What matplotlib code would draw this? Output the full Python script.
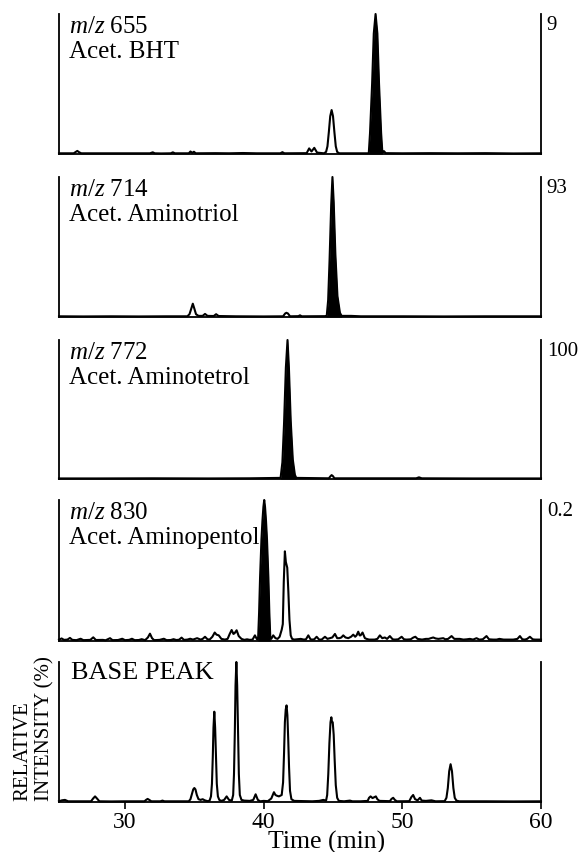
"""Stacked ion chromatograms (m/z 655/714/772/830 + base peak)."""

import numpy as np
import matplotlib.pyplot as plt

plt.rcParams["font.family"] = "Liberation Serif"
plt.rcParams["mathtext.fontset"] = "custom"
plt.rcParams["mathtext.rm"] = "Liberation Serif"
plt.rcParams["mathtext.it"] = "Liberation Serif:italic"

# -----------------------------------------------------------------------------
# Data: (time [min], relative intensity [%]) ----------------------------------
# -----------------------------------------------------------------------------

mz_values = [655, 714, 772, 830]
compounds = ["Acet. BHT", "Acet. Aminotriol", "Acet. Aminotetrol", "Acet. Aminopentol"]
scale_labels = ["9", "93", "100", "0.2"]
# time window of the blackened (target) peak in each ion trace
fill_windows = [(47.55, 48.6), (44.5, 45.65), (41.2, 42.4), (39.55, 40.5)]

trace_655 = [
    (25.24, 0.5), (26.3, 0.5), (26.45, 1.5), (26.56, 2.2), (26.7, 1.2), (26.85, 0.5),
    (31.8, 0.5), (32.0, 1.2), (32.15, 0.5), (32.6, 0.4), (33.3, 0.5), (33.45, 1.2),
    (33.6, 0.5), (34.6, 0.5), (34.72, 1.8), (34.85, 0.8), (34.97, 1.6), (35.1, 0.5),
    (36.5, 0.6), (37.5, 0.5), (38.5, 0.7), (39.5, 0.5), (41.2, 0.5), (41.35, 1.3),
    (41.5, 0.5), (43.1, 0.6), (43.28, 4.0), (43.45, 1.8), (43.65, 4.4), (43.85, 1.0),
    (44.35, 0.5), (44.5, 1.5), (44.6, 5.5), (44.7, 15.7), (44.8, 27), (44.9, 31.4),
    (45.0, 27), (45.1, 15.7), (45.2, 5.5), (45.3, 1.5), (45.45, 0.5),
    (47.58, 0.5), (47.67, 15), (47.82, 50), (47.94, 86), (48.07, 100), (48.2, 86),
    (48.32, 50), (48.47, 15), (48.56, 1), (48.68, 2), (48.8, 0.6), (50.0, 0.5),
    (52.0, 0.6), (54.0, 0.5), (56.0, 0.6), (58.0, 0.4), (60.0, 0.5),
]

trace_714 = [
    (25.24, 0.5), (27.0, 0.4), (29.0, 0.5), (31.0, 0.4), (33.0, 0.5), (34.5, 0.5),
    (34.65, 2), (34.78, 6), (34.89, 9.5), (35.0, 6), (35.12, 2), (35.3, 0.8),
    (35.6, 0.8), (35.77, 2.2), (35.95, 0.8), (36.4, 0.7), (36.57, 2), (36.75, 0.7),
    (38.0, 0.5), (40.0, 0.4), (41.4, 0.5), (41.55, 2.5), (41.64, 3), (41.75, 2.5),
    (41.9, 0.5), (42.5, 0.6), (42.62, 1.2), (42.75, 0.5), (44.5, 0.6),
    (44.55, 1), (44.65, 12), (44.75, 40), (44.87, 80), (44.96, 100), (45.05, 82),
    (45.17, 45), (45.32, 15), (45.5, 3), (45.62, 0.8), (46.3, 0.8), (47.0, 0.5),
    (50.0, 0.5), (53.0, 0.4), (56.0, 0.5), (60.0, 0.5),
]

trace_772 = [
    (25.24, 0.4), (28.0, 0.4), (32.0, 0.5), (36.0, 0.4), (39.0, 0.5), (41.22, 0.8),
    (41.35, 12), (41.47, 40), (41.6, 80), (41.72, 100), (41.82, 80), (41.95, 42),
    (42.1, 14), (42.25, 3), (42.35, 0.8), (44.7, 0.5), (44.82, 2), (44.9, 2.8),
    (45.0, 2), (45.1, 0.5), (51.0, 0.5), (51.2, 1.2), (51.4, 0.5), (55.0, 0.4),
    (60.0, 0.4),
]

trace_830 = [
    (25.24, 1.0), (25.43, 1.8), (25.6, 0.8), (25.85, 1.0), (26.03, 2.2), (26.2, 0.8),
    (26.5, 0.6), (26.8, 1.6), (27.0, 0.6), (27.5, 0.8), (27.71, 2.6), (27.9, 0.7),
    (28.4, 0.8), (28.6, 0.5), (28.92, 2.0), (29.1, 0.6), (29.5, 0.7), (29.8, 1.6),
    (30.0, 0.6), (30.3, 0.8), (30.5, 1.6), (30.7, 0.6), (31.0, 0.7), (31.2, 1.3),
    (31.45, 0.6), (31.65, 2.5), (31.8, 5.2), (31.95, 2.0), (32.1, 0.6), (32.5, 0.8),
    (32.8, 1.6), (33.0, 0.6), (33.3, 0.7), (33.5, 1.3), (33.7, 0.7), (33.9, 0.9),
    (34.08, 2.4), (34.25, 0.8), (34.5, 1.0), (34.7, 1.6), (34.9, 1.0), (35.2, 2.0),
    (35.45, 1.0), (35.6, 1.5), (35.77, 3.0), (35.95, 1.2), (36.1, 1.0), (36.3, 3.0),
    (36.47, 6.0), (36.6, 4.5), (36.76, 4.0), (36.95, 1.5), (37.2, 1.0), (37.4, 1.5),
    (37.55, 5.0), (37.69, 7.8), (37.82, 5.0), (37.9, 5.5), (38.05, 7.6), (38.2, 3.5),
    (38.4, 1.5), (38.6, 0.8), (38.8, 1.2), (39.0, 0.8), (39.2, 1.0), (39.37, 4.0),
    (39.5, 1.5), (39.58, 1.0),
    (39.6, 2), (39.67, 20), (39.74, 45), (39.84, 72), (39.91, 85), (39.98, 95),
    (40.04, 100), (40.1, 95), (40.17, 85), (40.24, 72), (40.34, 45), (40.41, 20),
    (40.48, 2),
    (40.55, 1.5), (40.69, 4.0), (40.85, 2.0), (41.0, 1.5), (41.15, 3.0), (41.3, 8.0),
    (41.38, 12), (41.45, 42), (41.53, 63.6), (41.6, 56), (41.70, 52), (41.78, 35),
    (41.86, 15), (41.95, 4), (42.05, 1.5), (42.2, 1.0), (42.4, 1.2), (42.67, 1.5),
    (42.9, 1.0), (43.05, 1.2), (43.22, 4.0), (43.38, 1.2), (43.5, 1.0), (43.65, 1.2),
    (43.82, 3.0), (44.0, 1.0), (44.18, 1.0), (44.42, 3.0), (44.6, 1.5), (44.78, 2.0),
    (44.95, 2.5), (45.14, 5.0), (45.3, 2.0), (45.46, 2.0), (45.6, 2.5), (45.74, 4.0),
    (45.9, 2.5), (46.1, 2.0), (46.3, 3.0), (46.46, 4.5), (46.6, 3.0), (46.7, 4.0),
    (46.82, 6.6), (46.92, 4.0), (46.99, 4.0), (47.13, 6.0), (47.3, 2.0), (47.42, 1.5),
    (47.6, 1.0), (47.78, 1.0), (48.0, 1.0), (48.2, 1.5), (48.38, 4.0), (48.55, 2.0),
    (48.74, 2.5), (48.9, 1.5), (49.1, 3.5), (49.3, 1.2), (49.46, 1.0), (49.7, 1.2),
    (49.95, 3.0), (50.12, 1.2), (50.3, 1.0), (50.6, 1.2), (50.8, 2.5), (50.94, 3.0),
    (51.1, 1.5), (51.42, 1.0), (51.7, 1.5), (51.9, 1.5), (52.05, 2.0), (52.23, 2.5),
    (52.4, 1.8), (52.6, 1.5), (52.8, 1.8), (52.95, 2.0), (53.1, 1.2), (53.3, 1.5),
    (53.55, 3.5), (53.75, 1.5), (54.15, 1.5), (54.4, 1.0), (54.65, 1.2), (54.87, 1.5),
    (55.1, 1.0), (55.35, 2.0), (55.55, 1.0), (55.8, 1.2), (56.07, 3.5), (56.25, 1.2),
    (56.55, 1.0), (56.8, 1.0), (57.0, 1.5), (57.3, 1.0), (57.7, 1.0), (58.0, 1.0),
    (58.3, 1.5), (58.48, 3.5), (58.65, 1.2), (58.84, 1.0), (59.0, 1.5), (59.2, 3.0),
    (59.4, 1.2), (59.56, 1.0), (60.0, 1.0),
]

trace_base_peak = [
    (25.24, 0.5), (25.45, 1.2), (25.67, 1.5), (25.9, 0.5), (27.55, 0.5), (27.7, 2.5),
    (27.84, 4.0), (27.98, 2.5), (28.15, 0.5), (29.0, 0.4), (30.0, 0.5), (31.4, 0.5),
    (31.52, 1.5), (31.63, 2.2), (31.75, 1.5), (31.9, 0.5), (32.55, 0.5), (32.7, 1.0),
    (32.85, 0.5), (34.6, 0.5), (34.72, 2), (34.82, 5.5), (34.92, 9), (35.0, 10),
    (35.08, 9), (35.18, 5), (35.3, 2), (35.45, 1.5), (35.6, 2), (35.75, 1.2),
    (35.95, 0.6), (36.1, 1), (36.2, 4), (36.27, 13), (36.33, 32), (36.38, 53),
    (36.44, 64.5), (36.5, 53), (36.56, 32), (36.62, 13), (36.7, 4), (36.8, 1.5),
    (36.95, 0.8), (37.15, 1.5), (37.33, 4), (37.5, 1.5), (37.7, 1), (37.8, 5),
    (37.86, 20), (37.92, 50), (37.97, 83), (38.03, 100), (38.09, 83), (38.15, 50),
    (38.21, 20), (38.28, 5), (38.4, 1.5), (38.6, 1), (39.0, 0.8), (39.25, 1.5),
    (39.42, 5.5), (39.58, 1.5), (39.75, 0.5), (40.0, 0.8), (40.3, 0.6), (40.55, 2.5),
    (40.74, 7), (40.85, 5), (40.95, 4.5), (41.1, 4), (41.3, 5), (41.4, 14),
    (41.47, 35), (41.53, 57), (41.59, 66), (41.65, 69), (41.71, 62), (41.77, 45),
    (41.83, 25), (41.9, 8), (42.0, 2), (42.2, 0.8), (42.6, 0.7), (43.0, 0.6),
    (43.5, 0.5), (44.0, 0.8), (44.3, 1.5), (44.42, 1.2), (44.5, 1), (44.58, 5),
    (44.66, 20), (44.74, 42), (44.82, 57), (44.88, 60.5), (44.93, 57), (44.98, 57),
    (45.05, 48), (45.12, 30), (45.2, 12), (45.3, 3), (45.42, 0.8), (45.8, 0.5),
    (46.22, 1.0), (46.4, 0.5), (47.0, 0.5), (47.5, 0.8), (47.6, 3), (47.71, 4),
    (47.85, 2.8), (48.0, 3.5), (48.09, 4), (48.2, 2), (48.35, 0.8), (49.1, 0.6),
    (49.22, 2.2), (49.34, 3), (49.46, 1.5), (49.6, 0.5), (50.5, 0.6), (50.65, 3.5),
    (50.78, 5), (50.92, 2), (51.1, 1.2), (51.27, 3), (51.4, 1), (51.7, 0.8),
    (52.1, 1.2), (52.4, 0.5), (53.05, 0.6), (53.18, 3), (53.28, 10), (53.38, 22),
    (53.48, 27), (53.58, 22), (53.68, 10), (53.78, 3), (53.9, 1), (54.1, 0.5),
    (56.0, 0.5), (58.0, 0.4), (60.0, 0.5),
]

x_ticks = [30, 40, 50, 60]

# -----------------------------------------------------------------------------
# Layout (pixel boxes of the reference, 578 x 852) ----------------------------
# -----------------------------------------------------------------------------
W, H = 578, 852
X_LEFT, X_RIGHT = 59, 541
panel_rows = [(14, 154), (177, 317), (340, 479), (500, 641), (662, 802)]

traces = [trace_655, trace_714, trace_772, trace_830, trace_base_peak]

fig = plt.figure(figsize=(W / 100, H / 100), dpi=100)

for i, ((top, bottom), trace) in enumerate(zip(panel_rows, traces)):
    ax = fig.add_axes([X_LEFT / W, 1 - bottom / H,
                       (X_RIGHT - X_LEFT) / W, (bottom - top) / H])
    t, y = np.array(trace).T

    ax.plot(t, y, color="black", lw=1.5, clip_on=False, zorder=3)

    if i < 4:
        t0, t1 = fill_windows[i]
        m = (t >= t0) & (t <= t1)
        ax.fill_between(t[m], 0, y[m], color="black", lw=0, zorder=3)
        label = f"$m/z$ {mz_values[i]}\n{compounds[i]}"
        ax.text(0.02, 0.985, label, transform=ax.transAxes, ha="left", va="top",
                fontsize=18, linespacing=1.15, zorder=2)
        ax.text(1.012, 0.985, scale_labels[i], transform=ax.transAxes,
                ha="left", va="top", fontsize=15)
        ax.set_xticks([])
    else:
        ax.text(0.025, 1.0, "BASE PEAK", transform=ax.transAxes,
                ha="left", va="top", fontsize=19, zorder=2)
        ax.set_xticks(x_ticks)
        ax.tick_params(axis="x", direction="out", length=5, width=1.2,
                       labelsize=17, pad=2)

    ax.set_xlim(25.24, 60)
    ax.set_ylim(0, 100)
    ax.set_yticks([])
    ax.spines["top"].set_visible(False)
    for side in ("left", "right", "bottom"):
        ax.spines[side].set_linewidth(1.3)
    ax.patch.set_visible(False)

# ─ Axis titles --------------------------------------------------------------
fig.text(327 / W, 1 - 842 / H, "Time (min)", ha="center", va="center",
         fontsize=18.5)
fig.text(34 / W, 1 - 801 / H, "RELATIVE\nINTENSITY (%)", rotation=90,
         ha="center", va="bottom", multialignment="left", fontsize=15,
         linespacing=1.25)

fig.savefig("out.png", dpi=100)
